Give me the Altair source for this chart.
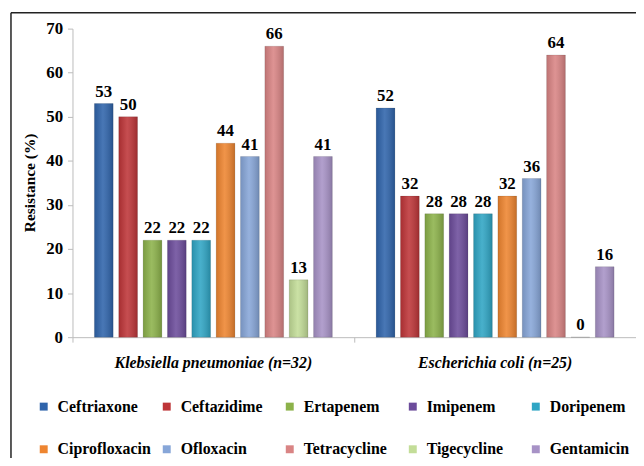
import altair as alt
import pandas as pd

groups = ["Klebsiella pneumoniae (n=32)", "Escherichia coli (n=25)"]
antibiotics = ["Ceftriaxone", "Ceftazidime", "Ertapenem", "Imipenem", "Doripenem",
               "Ciprofloxacin", "Ofloxacin", "Tetracycline", "Tigecycline", "Gentamicin"]
kleb = [53, 50, 22, 22, 22, 44, 41, 66, 13, 41]
ecoli = [52, 32, 28, 28, 28, 32, 36, 64, 0, 16]
colors = ["#2F64AB", "#BE3538", "#8CB24A", "#6C4C9B", "#2FA5C4",
          "#EE8530", "#87A6D8", "#D98484", "#C3DD98", "#A792C6"]

rows = []
for g, vals in zip(groups, [kleb, ecoli]):
    for a, v in zip(antibiotics, vals):
        rows.append({"group": g, "antibiotic": a, "value": v})
df = pd.DataFrame(rows)

FONT = "'Liberation Serif', 'Times New Roman', serif"

x_enc = alt.X("group:N", sort=groups,
              scale=alt.Scale(paddingInner=0, paddingOuter=0),
              axis=alt.Axis(title=None, labelAngle=0, labelFontStyle="italic",
                            labelFontWeight="bold", labelFontSize=16, labelFont=FONT,
                            labelColor="#000", domainColor="#BBBBBB", tickColor="#BBBBBB",
                            tickSize=5, labelPadding=13, bandPosition=0, ticks=True,
                            labelLimit=400))
xo_enc = alt.XOffset("antibiotic:N", sort=antibiotics,
                     scale=alt.Scale(paddingInner=0.23, paddingOuter=0.9))
y_enc = alt.Y("value:Q", scale=alt.Scale(domain=[0, 70], nice=False),
              axis=alt.Axis(title="Resistance (%)", values=[0, 10, 20, 30, 40, 50, 60, 70],
                            grid=False, labelFont=FONT, labelFontSize=17,
                            labelFontWeight="bold", labelColor="#000",
                            domainColor="#BBBBBB", tickColor="#BBBBBB", tickSize=5,
                            labelPadding=5, titleFont=FONT, titleFontSize=15.5,
                            titleFontWeight="bold", titleColor="#000",
                            titleAngle=270, titleX=-43, titleY=155,
                            titleAlign="center", titleBaseline="middle"))

base = alt.Chart(df)

bars = base.mark_bar(stroke="#00000030", strokeWidth=0.6).encode(
    x=x_enc, xOffset=xo_enc, y=y_enc,
    color=alt.Color("antibiotic:N", sort=antibiotics,
                    scale=alt.Scale(domain=antibiotics, range=colors),
                    legend=alt.Legend(title=None, orient="none", legendX=-37, legendY=373,
                                      direction="horizontal",
                                      columns=5, symbolType="square", symbolSize=64,
                                      symbolStrokeWidth=0, labelFont=FONT, labelFontSize=16,
                                      labelFontWeight="bold", labelColor="#000",
                                      labelOffset=6, columnPadding=8, rowPadding=27,
                                      gridAlign="all", labelLimit=200, padding=0)),
)

shade = base.mark_bar(color=alt.Gradient(
    gradient="linear", x1=0, x2=1, y1=0, y2=0,
    stops=[alt.GradientStop(offset=0, color="rgba(0,0,0,0.12)"),
           alt.GradientStop(offset=0.45, color="rgba(255,255,255,0.12)"),
           alt.GradientStop(offset=1, color="rgba(0,0,0,0.18)")])).encode(
    x=x_enc, xOffset=xo_enc, y=y_enc)

labels = base.mark_text(font=FONT, fontSize=17, fontWeight="bold", color="#000",
                        baseline="bottom", dy=-3).encode(
    x=x_enc, xOffset=xo_enc, y=y_enc, text=alt.Text("value:Q"))

frame_df = pd.DataFrame({"k": [0]})
top_line = alt.Chart(frame_df).mark_rule(color="#222", strokeWidth=1.5, clip=False).encode(
    x=alt.value(-62), x2=alt.value(600), y=alt.value(-16))
left_line = alt.Chart(frame_df).mark_rule(color="#222", strokeWidth=1.5, clip=False).encode(
    x=alt.value(-62), y=alt.value(-16), y2=alt.value(460))

chart = alt.layer(bars, shade, labels, top_line, left_line).properties(
    width=568, height=311,
    autosize=alt.AutoSizeParams(type="none"),
    padding={"left": 65, "top": 19, "right": 0, "bottom": 120},
    background="white",
).configure(font=FONT).configure_view(stroke=None)

chart.save("out.html", embed_options={"renderer": "svg", "actions": False})
